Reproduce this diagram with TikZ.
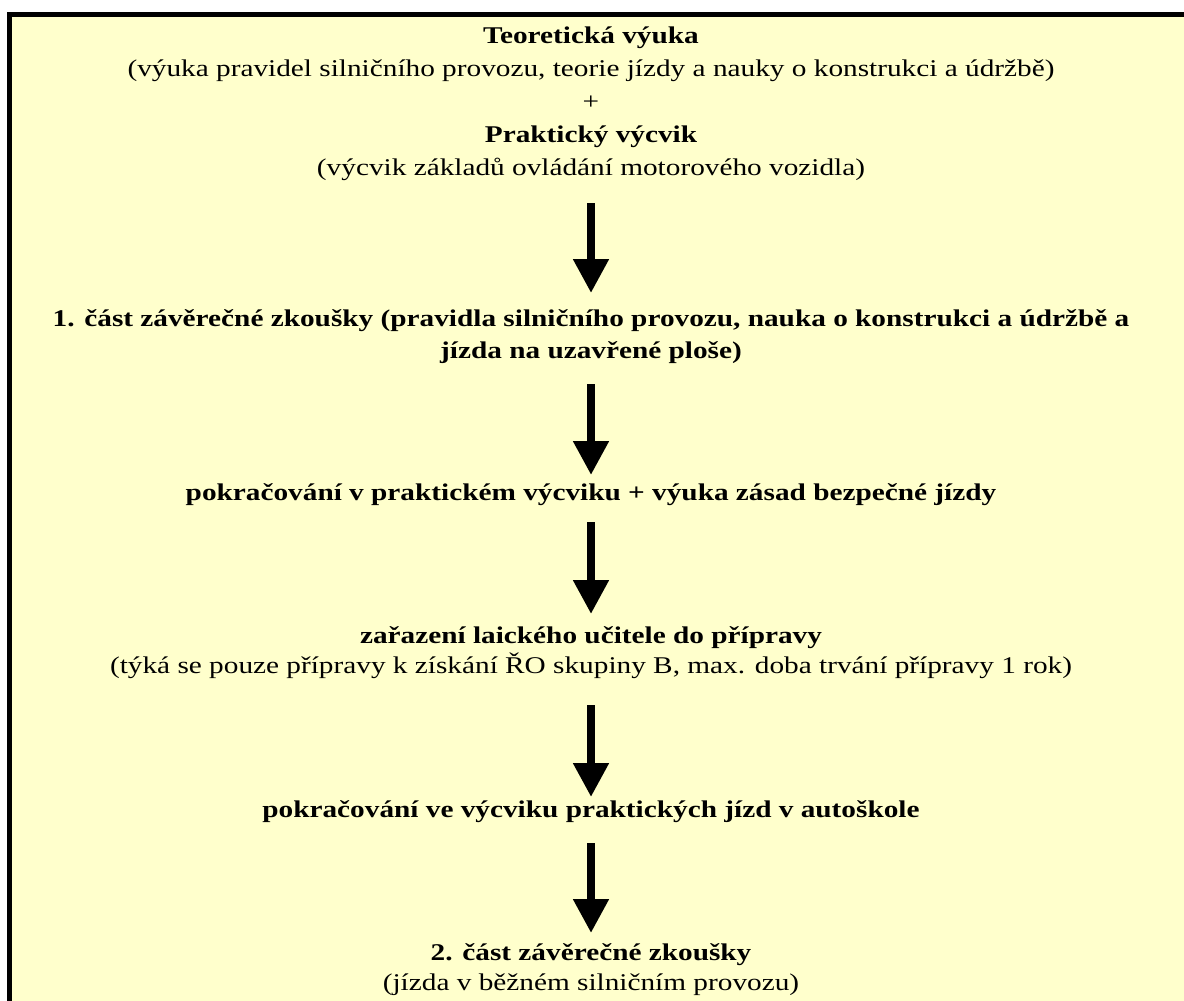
\documentclass[tikz,border=0pt]{standalone}
\usepackage{fontspec}
\setmainfont{Liberation Serif}[FakeStretch=1.22]
\usetikzlibrary{arrows.meta,positioning}
\definecolor{paper}{HTML}{FFFFCC}
\tikzset{
stage/.style={
  align=center,
  inner sep=0pt,
  anchor=base,
  font=\fontsize{24}{30}\selectfont},
boldstage/.style={
  stage,
  font=\bfseries\fontsize{24}{32}\selectfont},
line/.style={draw, line width=8pt, -{Triangle[length=34pt,width=34pt]}},
frame/.style={draw, line width=5pt, fill=paper}
}

\begin{document}
\begin{tikzpicture}[x=1pt,y=-1pt]
    \useasboundingbox (0,0) rectangle (1184,1001);
    \clip (0,0) rectangle (1184,1001);
    \path [frame] (9.5,14.7) rectangle (1240,1060);
    \node [stage, font=\fontsize{24}{33}\selectfont] (theory) at (591,175) {\textbf{Teoretická výuka}\\
      (výuka pravidel silničního provozu, teorie jízdy a nauky o konstrukci a údržbě)\\
      +\\
      \textbf{Praktický výcvik}\\
      (výcvik základů ovládání motorového vozidla)};
    \node [boldstage] (exam1) at (591,358) {1. část závěrečné zkoušky (pravidla silničního provozu, nauka o konstrukci a údržbě a\\
      jízda na uzavřené ploše)};
    \node [boldstage] (cont) at (591,500) {pokračování v praktickém výcviku + výuka zásad bezpečné jízdy};
    \node [stage] (lay) at (591,673) {\textbf{zařazení laického učitele do přípravy}\\
      (týká se pouze přípravy k získání ŘO skupiny B, max. doba trvání přípravy 1 rok)};
    \node [boldstage] (cont2) at (591,817) {pokračování ve výcviku praktických jízd v autoškole};
    \node [stage] (exam2) at (591,990) {\textbf{2. část závěrečné zkoušky}\\
      (jízda v běžném silničním provozu)};
    \path [line, shorten <=28pt, shorten >=65pt] (theory.base) -- (exam1.base);
    \path [line, shorten <=26pt, shorten >=25pt] (exam1.base) -- (cont.base);
    \path [line, shorten <=22pt, shorten >=59pt] (cont.base) -- (lay.base);
    \path [line, shorten <=32pt, shorten >=20pt] (lay.base) -- (cont2.base);
    \path [line, shorten <=26pt, shorten >=57pt] (cont2.base) -- (exam2.base);
\end{tikzpicture}
\end{document}
